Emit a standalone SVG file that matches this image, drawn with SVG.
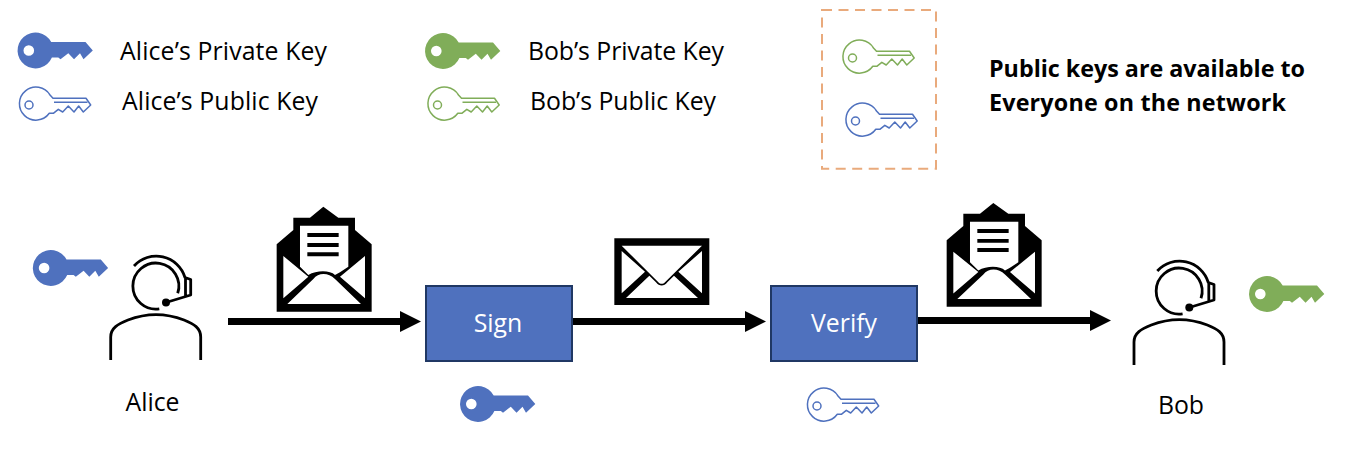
<svg xmlns="http://www.w3.org/2000/svg" width="1354" height="452" viewBox="0 0 1354 452">
<style>
text{font-family:"Open Sans","Noto Sans","Liberation Sans",sans-serif;font-size:24.800px;fill:#000}
.c{text-anchor:middle}
.w{fill:#fff}
.b{font-weight:700;font-size:23.300px}
.box{fill:#4f71be;stroke:#203864;stroke-width:2}
.p{fill:none;stroke:#000;stroke-width:2.8;stroke-linecap:butt;stroke-linejoin:round}
.conn{stroke:#000;stroke-width:7;fill:none;marker-end:url(#ah)}
.blue{color:#4f71be}.green{color:#80ad59}
</style>
<defs>
<marker id="ah" markerUnits="userSpaceOnUse" markerWidth="21" markerHeight="21" refX="1" refY="10.5" orient="auto"><path d="M0 0L21 10.500L0 21Z" fill="#000"/></marker>
<g id="ks"><path fill="currentColor" fill-rule="evenodd" d="M15.700-8.500H50L57.300 0 48 8.700 44.500 2.700 38.500 8.700 32.800 2.700 25 8.700 22.800 7H16.400A17.900 17.900 0 1 1 15.700-8.500ZM-12 0a5.300 5.300 0 1 0 10.600 0a5.300 5.300 0 1 0-10.600 0Z"/></g>
<g id="ko" fill="none" stroke="currentColor" stroke-width="1.500" stroke-linejoin="round"><path d="M14-10L17-6.700H50L54.700 0 47.300 7 42.700 1 38 7 32.300 1 26.700 7 22.300 4.300 17.300 8.300H13.300A16.500 16.500 0 1 1 14-10Z"/><path d="M18-2.700H51.500"/><circle cx="-7" cy="0" r="4"/></g>
<g id="person"><path class="p" d="M177.700 293.300A23 23 0 1 0 159.300 308.800"/><path class="p" d="M134 266A30 30 0 0 1 185 277.500L190.700 279.500V295L166 302.500M185.500 277.500V297"/><circle cx="166" cy="302.500" r="4"/><path class="p" d="M110.700 360V337C110.700 328 118 324 128 320C146 313 166 313 184 320C194 324 200.700 328 200.700 337V360"/></g>
<g id="env-open"><path fill="#000" d="M50 148L100 105V68H150L190 35L235 68H285V105L335 148V350H50Z"/><path fill="#fff" d="M120 92H265V215L240 232L225 240C210 225 170 225 145 240L120 215Z"/><path fill="#000" d="M142 114H236V126H142ZM142 144H236V156H142ZM142 172H236V184H142Z"/><path fill="#fff" d="M70 183L145 245L70 310ZM315 183L240 245L315 310ZM82 327L160 252C175 232 205 232 225 252L303 327Z"/></g>
</defs>
<g id="connectors">
<path class="conn" d="M228 321.500H401"/>
<path class="conn" d="M573 321.500H746"/>
<path class="conn" d="M918 320.500H1091"/>
</g>
<g id="legend-alice-private" class="blue"><use href="#ks" x="35.500" y="50.500"/><text x="120" y="60" textLength="207">Alice’s Private Key</text></g>
<g id="legend-alice-public" class="blue"><use href="#ko" x="36" y="105"/><text x="122" y="110" textLength="196">Alice’s Public Key</text></g>
<g id="legend-bob-private" class="green"><use href="#ks" x="443" y="51"/><text x="528" y="60" textLength="196">Bob’s Private Key</text></g>
<g id="legend-bob-public" class="green"><use href="#ko" x="444.500" y="105"/><text x="530" y="110" textLength="186">Bob’s Public Key</text></g>
<g id="public-keys"><rect x="822" y="10" width="114" height="158.700" fill="none" stroke="#e9aa7c" stroke-width="2" stroke-dasharray="10 6.500"/><use href="#ko" class="green" x="859.500" y="58"/><use href="#ko" class="blue" x="862.500" y="121"/></g>
<g id="public-note"><text class="b" x="989" y="77" textLength="316">Public keys are available to</text><text class="b" x="989" y="111" textLength="297">Everyone on the network</text></g>
<g id="alice"><use href="#ks" class="blue" x="50.800" y="268"/><use href="#person"/><text class="c" x="152.500" y="411">Alice</text></g>
<g id="env1"><use href="#env-open" transform="translate(260 195) scale(.3333)"/></g>
<g id="sign"><rect class="box" x="426" y="286" width="146" height="75"/><text class="c w" x="498" y="332">Sign</text><use href="#ks" class="blue" x="478" y="404"/></g>
<g id="env2"><g transform="translate(600 225) scale(.3333)"><path fill="#000" d="M43 40H328V240H43Z"/><path fill="#fff" d="M65 62H306L195 172C189 178 181 178 175 172ZM65 78V205L135 140ZM306 78V205L235 140ZM78 219L148 152L168 172C178 185 192 185 202 172L222 152L294 219Z"/></g></g>
<g id="verify"><rect class="box" x="771" y="286" width="146" height="75"/><text class="c w" x="844" y="332">Verify</text><use href="#ko" class="blue" x="824" y="406"/></g>
<g id="env3"><use href="#env-open" transform="translate(930 191.500) scale(.3333 .329)"/></g>
<g id="bob"><use href="#person" transform="translate(1023.300 5)"/><use href="#ks" class="green" x="1267" y="294"/><text class="c" x="1181" y="414">Bob</text></g>
</svg>
